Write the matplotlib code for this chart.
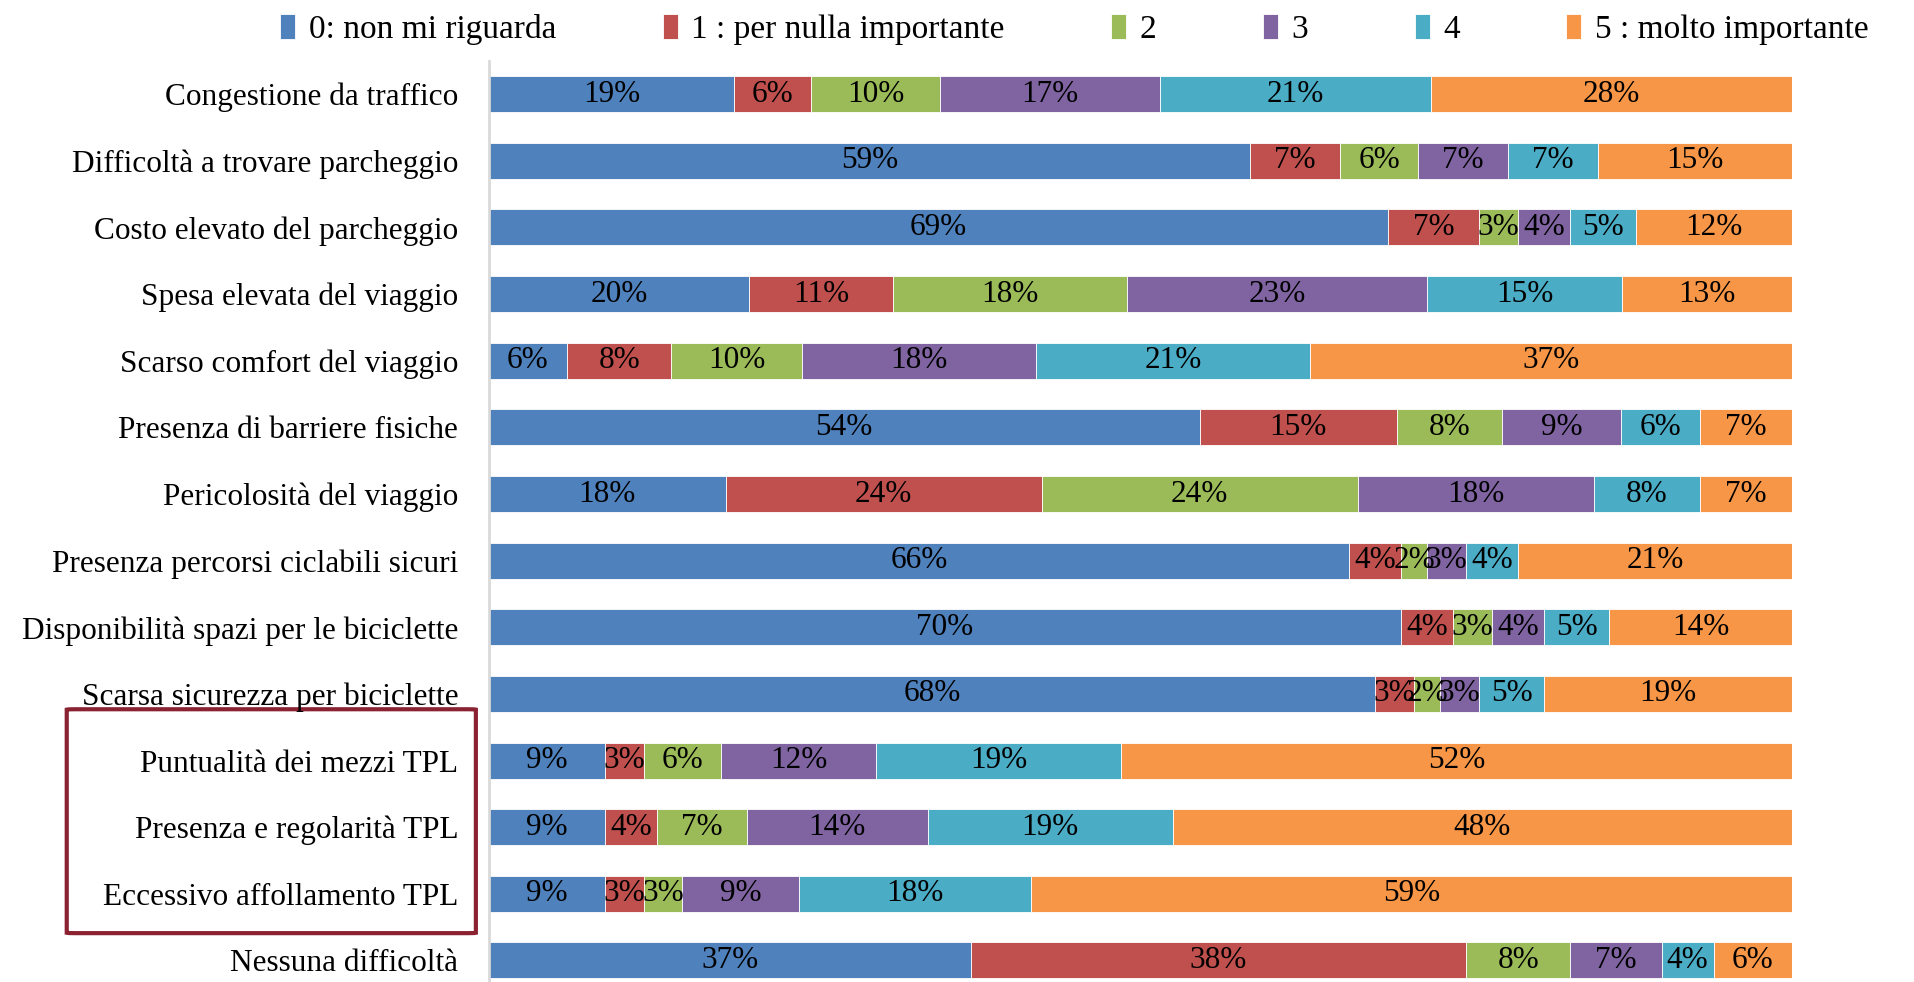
import numpy as np
import matplotlib.pyplot as plt
from matplotlib.patches import FancyBboxPatch
from matplotlib.transforms import blended_transform_factory

plt.rcParams['font.family'] = ['Liberation Serif', 'DejaVu Serif']

categories = [
    'Congestione da traffico',
    'Difficoltà a trovare parcheggio',
    'Costo elevato del parcheggio',
    'Spesa elevata del viaggio',
    'Scarso comfort del viaggio',
    'Presenza di barriere fisiche',
    'Pericolosità del viaggio',
    'Presenza percorsi ciclabili sicuri',
    'Disponibilità spazi per le biciclette',
    'Scarsa sicurezza per biciclette',
    'Puntualità dei mezzi TPL',
    'Presenza e regolarità TPL',
    'Eccessivo affollamento TPL',
    'Nessuna difficoltà',
]

series = ['0: non mi riguarda', '1 : per nulla importante', '2', '3', '4',
          '5 : molto importante']

v0 = [19, 59, 69, 20, 6, 54, 18, 66, 70, 68, 9, 9, 9, 37]
v1 = [6, 7, 7, 11, 8, 15, 24, 4, 4, 3, 3, 4, 3, 38]
v2 = [10, 6, 3, 18, 10, 8, 24, 2, 3, 2, 6, 7, 3, 8]
v3 = [17, 7, 4, 23, 18, 9, 18, 3, 4, 3, 12, 14, 9, 7]
v4 = [21, 7, 5, 15, 21, 6, 8, 4, 5, 5, 19, 19, 18, 4]
v5 = [28, 15, 12, 13, 37, 7, 7, 21, 14, 19, 52, 48, 59, 6]

colors = ['#4F81BD', '#C0504D', '#9BBB59', '#8064A2', '#4BACC6', '#F79646']

data = np.array([v0, v1, v2, v3, v4, v5], dtype=float)
shares = data / data.sum(axis=0)

fig = plt.figure(figsize=(19.15, 9.82), dpi=100)
ax = fig.add_axes([0.2553, -0.012, 0.6804, 0.950])

y = np.arange(len(categories))
left = np.zeros(len(categories))
handles = []
for i in range(len(series)):
    bars = ax.barh(y, shares[i], left=left, height=0.54, color=colors[i],
                   edgecolor='white', linewidth=0.6, label=series[i])
    handles.append(bars)
    for j in range(len(categories)):
        ax.text(left[j] + shares[i][j] / 2, y[j], f'{int(data[i][j])}%',
                ha='center', va='center', fontsize=22.5, color='black')
    left = left + shares[i]

ax.set_xlim(0, 1)
ax.set_ylim(len(categories) - 0.5, -0.5)
ax.set_yticks(y)
ax.set_yticklabels(categories, fontsize=22.5)
ax.tick_params(axis='y', length=0, pad=22)
ax.set_xticks([])
for s in ['top', 'right', 'bottom']:
    ax.spines[s].set_visible(False)
ax.spines['left'].set_color('#D9D9D9')
ax.spines['left'].set_linewidth(2)

# box round the TPL labels
tr = blended_transform_factory(ax.transAxes, ax.transData)
box = FancyBboxPatch((-0.324, 9.23), 0.314, 3.36, transform=tr,
                     boxstyle='round,pad=0,rounding_size=0.006',
                     fill=False, edgecolor='#8B2232', linewidth=3,
                     clip_on=False)
ax.add_patch(box)

fig.legend(handles=handles, labels=series, loc='center', ncol=6,
           bbox_to_anchor=(0.561, 0.970), frameon=False, fontsize=24,
           handlelength=0.45, handleheight=0.8, handletextpad=0.4,
           columnspacing=3.2)

plt.savefig('out.png', dpi=100)
